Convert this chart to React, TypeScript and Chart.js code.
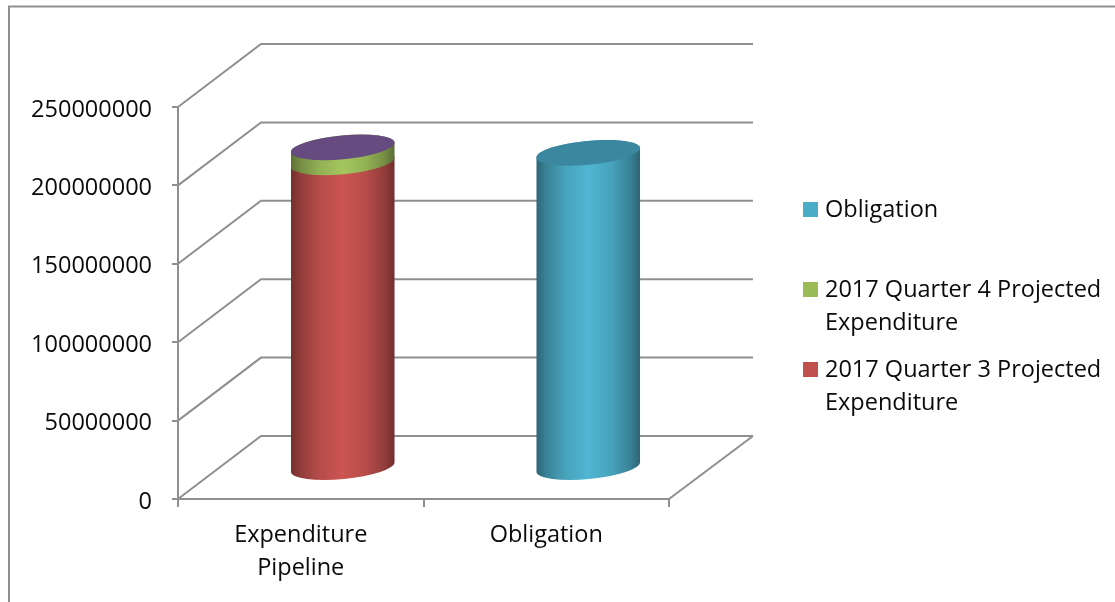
import React, { useEffect, useRef } from "react";
import { Chart, registerables } from "chart.js";

Chart.register(...registerables);

// Categories and stacked series values
const categories = [["Expenditure", "Pipeline"], ["Obligation"]];
const q3Values = [195000000, null];
const q4Values = [9500000, null];
const obligationValues = [null, 201000000];
const capColors = ["#654B80", "#3A879F"];
const yMax = 250000000;
const yStep = 50000000;

// Look of the box
const FONT = "'Open Sans', sans-serif";
const FONT_SIZE = 23.5;
const TEXT = "#0A0A0A";
const LINE = "#8F8F8F";
const DEPTH_X = 83;
const DEPTH_Y = 63;
const BAR_LIFT = 31;
const BAR_SHIFT = 42;
const TILT = -0.095;
const MINOR = 12;

const shade = (hex: string, f: number) => {
  const n = parseInt(hex.slice(1), 16);
  const c = [(n >> 16) & 255, (n >> 8) & 255, n & 255].map((v) =>
    Math.min(255, Math.round(v * f))
  );
  return `rgb(${c[0]},${c[1]},${c[2]})`;
};

const SHADES: [number, number][] = [
  [0, 0.6],
  [0.1, 0.76],
  [0.28, 0.95],
  [0.5, 1.06],
  [0.72, 0.95],
  [0.9, 0.76],
  [1, 0.58],
];

// Frame, receding walls and floor, drawn behind the cylinders
const drawBox = (chart: any) => {
  const { ctx, chartArea } = chart;
  const yScale = chart.scales.y;
  ctx.save();
  ctx.strokeStyle = LINE;
  ctx.lineWidth = 2;
  ctx.beginPath();
  ctx.moveTo(9, 602);
  ctx.lineTo(9, 6.5);
  ctx.lineTo(1115, 6.5);
  ctx.stroke();
  yScale.ticks.forEach((_: unknown, i: number) => {
    const y = yScale.getPixelForTick(i);
    ctx.beginPath();
    ctx.moveTo(chartArea.left, y);
    ctx.lineTo(chartArea.left + DEPTH_X, y - DEPTH_Y);
    ctx.lineTo(chartArea.right + DEPTH_X + 1, y - DEPTH_Y);
    ctx.stroke();
  });
  ctx.beginPath();
  ctx.moveTo(chartArea.right, chartArea.bottom);
  ctx.lineTo(chartArea.right + DEPTH_X + 1, chartArea.bottom - DEPTH_Y);
  ctx.stroke();
  ctx.restore();
};

// Each stacked bar element becomes one section of a cylinder
const drawCylinders = (chart: any) => {
  const { ctx } = chart;
  chart.data.labels.forEach((_: unknown, index: number) => {
    let top: { x: number; y: number; a: number } | null = null;
    chart.data.datasets.forEach((ds: any, dsIndex: number) => {
      if (ds.data[index] == null) return;
      const bar = chart.getDatasetMeta(dsIndex).data[index];
      const a = bar.width / 2;
      const x = bar.x + BAR_SHIFT;
      const yTop = bar.y - BAR_LIFT;
      const yBottom = bar.base - BAR_LIFT;
      const g = ctx.createLinearGradient(x - a, 0, x + a, 0);
      SHADES.forEach(([p, f]) => g.addColorStop(p, shade(ds.backgroundColor, f)));
      ctx.fillStyle = g;
      ctx.beginPath();
      ctx.ellipse(x, yBottom, a, MINOR, TILT, 0, Math.PI);
      ctx.ellipse(x, yTop, a, MINOR, TILT, Math.PI, Math.PI * 2);
      ctx.closePath();
      ctx.fill();
      top = { x, y: yTop, a };
    });
    if (top) {
      const t = top as { x: number; y: number; a: number };
      ctx.fillStyle = capColors[index];
      ctx.beginPath();
      ctx.ellipse(t.x, t.y, t.a, MINOR, TILT, 0, Math.PI * 2);
      ctx.fill();
    }
  });
};

// Legend on the right, in reverse series order, with wrapped labels
const drawLegend = (chart: any) => {
  const { ctx } = chart;
  const left = 803;
  const textX = 825;
  const rowTop = 210.5;
  const rowStep = 80;
  const lineHeight = 33;
  ctx.save();
  ctx.font = `${FONT_SIZE}px ${FONT}`;
  ctx.textBaseline = "middle";
  [...chart.data.datasets].reverse().forEach((ds: any, i: number) => {
    const y = rowTop + i * rowStep;
    ctx.fillStyle = ds.backgroundColor;
    ctx.fillRect(left, y - 8.5, 15, 15);
    const lines: string[] = [];
    let line = "";
    ds.label.split(" ").forEach((word: string) => {
      const next = line ? `${line} ${word}` : word;
      if (ctx.measureText(next).width > 285 && line) {
        lines.push(line);
        line = word;
      } else {
        line = next;
      }
    });
    lines.push(line);
    ctx.fillStyle = TEXT;
    lines.forEach((l, j) => ctx.fillText(l, textX, y + j * lineHeight));
  });
  ctx.restore();
};

const boxPlugin = {
  id: "cylinderBox",
  beforeDraw: drawBox,
  beforeDatasetsDraw(chart: any) {
    drawCylinders(chart);
    return false;
  },
  afterDraw: drawLegend,
};

export default function App() {
  const ref = useRef<HTMLCanvasElement>(null);

  useEffect(() => {
    const chart = new Chart(ref.current as HTMLCanvasElement, {
      type: "bar",
      data: {
        labels: categories as any,
        datasets: [
          { label: "2017 Quarter 3 Projected Expenditure", data: q3Values, backgroundColor: "#C0504D" },
          { label: "2017 Quarter 4 Projected Expenditure", data: q4Values, backgroundColor: "#9BBB59" },
          { label: "Obligation", data: obligationValues, backgroundColor: "#4BACC6" },
        ],
      } as any,
      options: {
        animation: false,
        responsive: false,
        layout: { padding: { left: 0, right: 446, top: 107, bottom: 0 } },
        datasets: { bar: { barPercentage: 0.4236, categoryPercentage: 1 } },
        plugins: { legend: { display: false }, tooltip: { enabled: false } },
        scales: {
          x: {
            stacked: true,
            afterFit: (s: any) => {
              s.height = 103;
            },
            border: { color: LINE, width: 2 },
            grid: { drawOnChartArea: false, drawTicks: true, tickLength: 8, color: LINE, lineWidth: 2, offset: true },
            ticks: {
              color: TEXT,
              padding: 12,
              maxRotation: 0,
              font: { family: FONT, size: FONT_SIZE, lineHeight: 1.4 },
            },
          },
          y: {
            stacked: true,
            min: 0,
            max: yMax,
            afterFit: (s: any) => {
              s.width = 178;
            },
            border: { color: LINE, width: 2 },
            grid: { drawOnChartArea: false, drawTicks: true, tickLength: 6, color: LINE, lineWidth: 2 },
            ticks: {
              stepSize: yStep,
              color: TEXT,
              padding: 20,
              labelOffset: 3,
              font: { family: FONT, size: FONT_SIZE },
              callback: (v: any) => String(v),
            },
          },
        },
      } as any,
      plugins: [boxPlugin as any],
    });
    return () => chart.destroy();
  }, []);

  return (
    <div style={{ position: "absolute", left: 0, top: 0, width: 1115, height: 602, background: "#fff" }}>
      <canvas ref={ref} width={1115} height={602} style={{ display: "block" }} />
    </div>
  );
}
